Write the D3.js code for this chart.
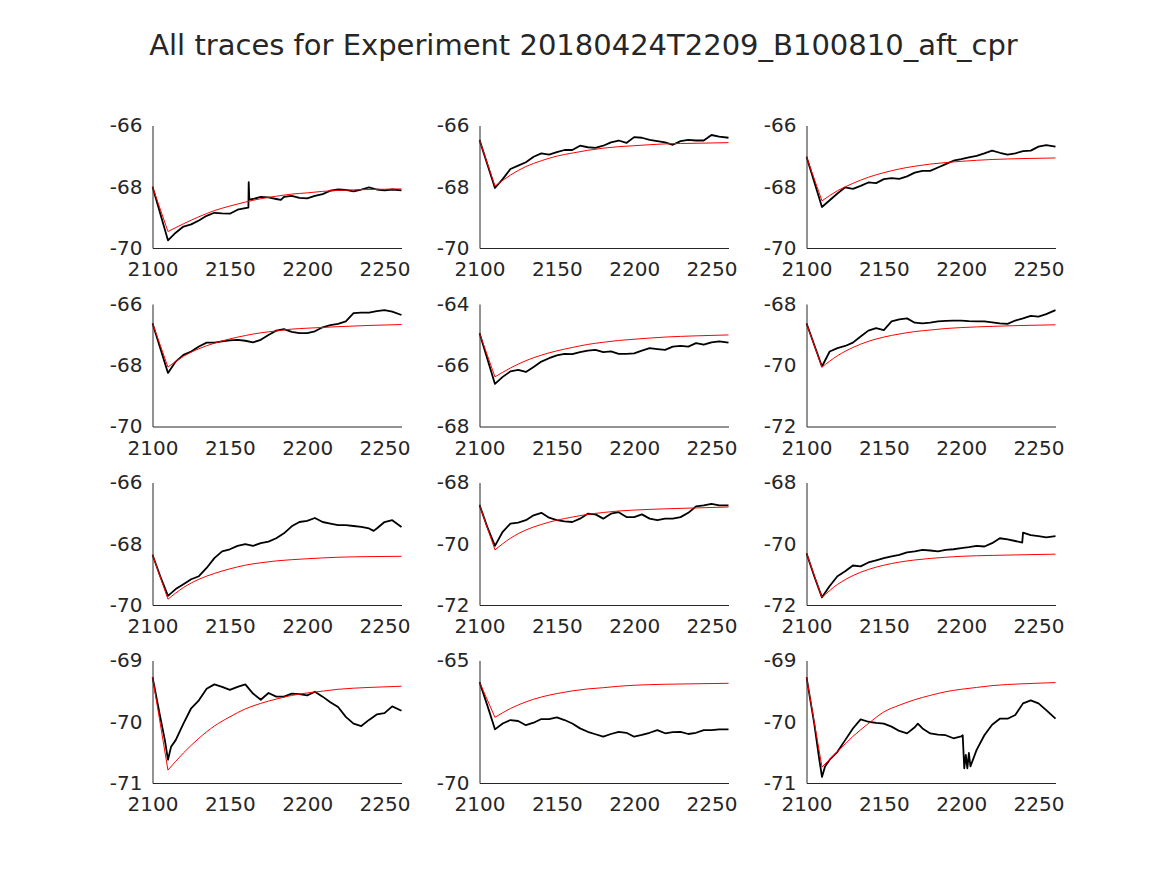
<!DOCTYPE html>
<html>
<head>
<meta charset="utf-8">
<script src="https://cdn.jsdelivr.net/npm/d3@7"></script>
<style>
  body { margin: 0; background: #fff; }
  text { font-family: "DejaVu Sans", sans-serif; fill: #262626; }
</style>
</head>
<body>
<svg id="fig" width="1167" height="875"></svg>
<script>
// x axis shared by all panels
var xDomain = [2100, 2261];
var xTicks = [2100, 2150, 2200, 2250];

var yDomains = [
	[-70, -66], [-70, -66], [-70, -66],
	[-70, -66], [-68, -64], [-72, -68],
	[-70, -66], [-72, -68], [-72, -68],
	[-71, -69], [-70, -65], [-71, -69]
];
var yTicks = [
	[-70, -68, -66], [-70, -68, -66], [-70, -68, -66],
	[-70, -68, -66], [-68, -66, -64], [-72, -70, -68],
	[-70, -68, -66], [-72, -70, -68], [-72, -70, -68],
	[-71, -70, -69], [-70, -65], [-71, -70, -69]
];

// recorded traces (black), [time, value]
var trace1 = [[2100,-68],[2110,-69.75],[2115,-69.5],[2120,-69.3],[2125,-69.23],[2130,-69.1],[2135,-68.95],[2140,-68.85],[2145,-68.87],[2150,-68.88],[2155,-68.75],[2160,-68.7],[2162,-68.68],[2162.2,-67.85],[2162.6,-68.42],[2165,-68.4],[2170,-68.33],[2175,-68.35],[2180,-68.4],[2183,-68.43],[2185,-68.33],[2190,-68.3],[2195,-68.36],[2200,-68.38],[2205,-68.3],[2210,-68.24],[2215,-68.13],[2220,-68.09],[2225,-68.1],[2230,-68.15],[2235,-68.09],[2240,-68.02],[2245,-68.09],[2250,-68.12],[2255,-68.09],[2261,-68.12]];
var trace2 = [[2100,-66.47],[2110,-68.04],[2115,-67.75],[2120,-67.42],[2125,-67.31],[2130,-67.2],[2135,-67.02],[2140,-66.91],[2145,-66.95],[2150,-66.87],[2155,-66.8],[2160,-66.8],[2165,-66.66],[2170,-66.71],[2175,-66.73],[2180,-66.66],[2185,-66.55],[2190,-66.49],[2195,-66.57],[2200,-66.38],[2205,-66.4],[2210,-66.47],[2215,-66.51],[2220,-66.55],[2225,-66.63],[2230,-66.51],[2235,-66.47],[2240,-66.49],[2245,-66.49],[2250,-66.31],[2255,-66.36],[2261,-66.4]];
var trace3 = [[2100,-67.02],[2110,-68.66],[2115,-68.44],[2120,-68.22],[2125,-68.02],[2130,-68.07],[2135,-67.97],[2140,-67.86],[2145,-67.88],[2150,-67.75],[2155,-67.72],[2160,-67.74],[2165,-67.66],[2170,-67.54],[2175,-67.48],[2180,-67.48],[2185,-67.37],[2190,-67.26],[2195,-67.15],[2200,-67.1],[2205,-67.04],[2210,-66.99],[2215,-66.91],[2220,-66.82],[2225,-66.89],[2230,-66.95],[2235,-66.91],[2240,-66.84],[2245,-66.82],[2250,-66.69],[2255,-66.64],[2261,-66.69]];
var trace4 = [[2100,-66.63],[2110,-68.25],[2115,-67.88],[2120,-67.66],[2125,-67.55],[2130,-67.39],[2135,-67.26],[2140,-67.26],[2145,-67.22],[2150,-67.19],[2155,-67.17],[2160,-67.2],[2165,-67.25],[2170,-67.17],[2175,-67.01],[2180,-66.87],[2185,-66.82],[2190,-66.91],[2195,-66.95],[2200,-66.95],[2205,-66.89],[2210,-66.76],[2215,-66.69],[2220,-66.65],[2225,-66.57],[2230,-66.3],[2235,-66.28],[2240,-66.28],[2245,-66.23],[2250,-66.2],[2255,-66.25],[2261,-66.36]];
var trace5 = [[2100,-64.95],[2110,-66.61],[2115,-66.38],[2120,-66.2],[2125,-66.15],[2130,-66.22],[2135,-66.06],[2140,-65.88],[2145,-65.77],[2150,-65.68],[2155,-65.63],[2160,-65.64],[2165,-65.57],[2170,-65.52],[2175,-65.5],[2180,-65.57],[2185,-65.55],[2190,-65.63],[2195,-65.63],[2200,-65.61],[2205,-65.52],[2210,-65.44],[2215,-65.47],[2220,-65.5],[2225,-65.39],[2230,-65.37],[2235,-65.39],[2240,-65.28],[2245,-65.33],[2250,-65.25],[2255,-65.22],[2261,-65.26]];
var trace6 = [[2100,-68.63],[2110,-70.04],[2115,-69.55],[2120,-69.44],[2125,-69.37],[2130,-69.26],[2135,-69.06],[2140,-68.87],[2145,-68.79],[2150,-68.85],[2155,-68.57],[2160,-68.5],[2165,-68.47],[2170,-68.61],[2175,-68.63],[2180,-68.61],[2185,-68.57],[2190,-68.55],[2195,-68.54],[2200,-68.54],[2205,-68.56],[2210,-68.57],[2215,-68.57],[2220,-68.6],[2225,-68.63],[2230,-68.65],[2235,-68.54],[2240,-68.47],[2245,-68.39],[2250,-68.41],[2255,-68.33],[2261,-68.2]];
var trace7 = [[2100,-68.36],[2105,-69.06],[2110,-69.7],[2115,-69.48],[2120,-69.32],[2125,-69.16],[2130,-69.06],[2135,-68.79],[2140,-68.47],[2145,-68.25],[2150,-68.18],[2155,-68.07],[2160,-68.01],[2165,-68.07],[2170,-67.98],[2175,-67.93],[2180,-67.82],[2185,-67.66],[2190,-67.43],[2195,-67.29],[2200,-67.25],[2205,-67.16],[2210,-67.29],[2215,-67.34],[2220,-67.39],[2225,-67.39],[2230,-67.42],[2235,-67.45],[2240,-67.5],[2243,-67.58],[2245,-67.5],[2250,-67.29],[2255,-67.23],[2261,-67.45]];
var trace8 = [[2100,-68.73],[2105,-69.45],[2110,-70.07],[2115,-69.61],[2120,-69.34],[2125,-69.31],[2130,-69.23],[2135,-69.07],[2140,-68.99],[2145,-69.15],[2150,-69.23],[2155,-69.27],[2160,-69.29],[2165,-69.18],[2170,-69.02],[2175,-69.04],[2180,-69.18],[2185,-69.02],[2190,-68.97],[2195,-69.13],[2200,-69.13],[2205,-69.04],[2210,-69.18],[2215,-69.23],[2220,-69.18],[2225,-69.18],[2230,-69.13],[2235,-68.99],[2240,-68.78],[2245,-68.75],[2250,-68.7],[2255,-68.75],[2261,-68.75]];
var trace9 = [[2100,-70.31],[2105,-71.06],[2110,-71.75],[2115,-71.38],[2120,-71.06],[2125,-70.9],[2130,-70.71],[2135,-70.74],[2140,-70.61],[2145,-70.54],[2150,-70.47],[2155,-70.41],[2160,-70.36],[2165,-70.28],[2170,-70.25],[2175,-70.2],[2180,-70.22],[2185,-70.25],[2190,-70.2],[2195,-70.18],[2200,-70.14],[2205,-70.11],[2210,-70.07],[2215,-70.09],[2220,-69.98],[2225,-69.82],[2230,-69.86],[2235,-69.91],[2239.5,-69.96],[2240,-69.64],[2245,-69.72],[2250,-69.75],[2255,-69.79],[2261,-69.75]];
var trace10 = [[2100,-69.27],[2105,-69.92],[2108,-70.3],[2110,-70.62],[2112,-70.41],[2115,-70.3],[2120,-70.03],[2125,-69.78],[2130,-69.65],[2135,-69.46],[2140,-69.39],[2145,-69.43],[2150,-69.48],[2155,-69.43],[2160,-69.39],[2165,-69.54],[2170,-69.64],[2175,-69.53],[2180,-69.59],[2185,-69.59],[2190,-69.54],[2195,-69.55],[2200,-69.57],[2205,-69.51],[2210,-69.59],[2215,-69.68],[2220,-69.76],[2225,-69.92],[2230,-70.03],[2235,-70.07],[2240,-69.97],[2245,-69.88],[2250,-69.86],[2255,-69.75],[2261,-69.82]];
var trace11 = [[2100,-65.88],[2105,-66.82],[2110,-67.81],[2115,-67.57],[2120,-67.43],[2125,-67.47],[2130,-67.64],[2135,-67.54],[2140,-67.39],[2145,-67.39],[2150,-67.32],[2155,-67.43],[2160,-67.57],[2165,-67.77],[2170,-67.91],[2175,-68.01],[2180,-68.11],[2185,-68.0],[2190,-67.91],[2195,-67.95],[2200,-68.11],[2205,-68.04],[2210,-67.95],[2215,-67.84],[2220,-67.97],[2225,-67.92],[2230,-67.91],[2235,-68.0],[2240,-67.95],[2245,-67.84],[2250,-67.84],[2255,-67.81],[2261,-67.81]];
var trace12 = [[2100,-69.27],[2105,-70.03],[2108,-70.57],[2110,-70.9],[2112,-70.73],[2115,-70.62],[2120,-70.49],[2125,-70.3],[2130,-70.11],[2135,-69.96],[2140,-70.0],[2145,-70.02],[2150,-70.03],[2155,-70.08],[2160,-70.15],[2165,-70.19],[2170,-70.09],[2172,-70.03],[2175,-70.11],[2180,-70.19],[2185,-70.21],[2190,-70.22],[2195,-70.27],[2200,-70.24],[2201,-70.22],[2202,-70.76],[2203,-70.54],[2204,-70.76],[2205,-70.51],[2206,-70.73],[2210,-70.46],[2215,-70.22],[2220,-70.05],[2225,-69.95],[2230,-69.95],[2235,-69.89],[2240,-69.7],[2245,-69.65],[2250,-69.7],[2255,-69.81],[2261,-69.95]];

// fitted curves (red), [time, value]
var fit1 = [[2100,-68],[2110,-69.46],[2120,-69.21],[2130,-68.98],[2140,-68.78],[2150,-68.63],[2160,-68.5],[2170,-68.39],[2180,-68.31],[2190,-68.24],[2200,-68.2],[2210,-68.15],[2220,-68.12],[2240,-68.09],[2261,-68.07]];
var fit2 = [[2100,-66.47],[2110,-67.98],[2120,-67.62],[2130,-67.34],[2140,-67.15],[2150,-67.0],[2160,-66.9],[2170,-66.81],[2180,-66.74],[2190,-66.69],[2200,-66.66],[2220,-66.6],[2240,-66.58],[2261,-66.56]];
var fit3 = [[2100,-67.02],[2110,-68.46],[2120,-68.13],[2130,-67.89],[2140,-67.69],[2150,-67.54],[2160,-67.42],[2170,-67.33],[2180,-67.26],[2190,-67.21],[2200,-67.17],[2220,-67.11],[2240,-67.08],[2261,-67.06]];
var fit4 = [[2100,-66.63],[2110,-68.06],[2120,-67.71],[2130,-67.46],[2140,-67.28],[2150,-67.14],[2160,-67.03],[2170,-66.94],[2180,-66.88],[2190,-66.82],[2200,-66.79],[2220,-66.74],[2240,-66.7],[2261,-66.67]];
var fit5 = [[2100,-64.95],[2110,-66.38],[2120,-66.09],[2130,-65.85],[2140,-65.67],[2150,-65.53],[2160,-65.42],[2170,-65.32],[2180,-65.25],[2190,-65.19],[2200,-65.15],[2220,-65.08],[2240,-65.04],[2261,-65.01]];
var fit6 = [[2100,-68.63],[2110,-70.06],[2120,-69.69],[2130,-69.42],[2140,-69.22],[2150,-69.08],[2160,-68.98],[2170,-68.9],[2180,-68.85],[2190,-68.8],[2200,-68.77],[2220,-68.73],[2240,-68.7],[2261,-68.68]];
var fit7 = [[2100,-68.36],[2110,-69.81],[2120,-69.43],[2130,-69.16],[2140,-68.97],[2150,-68.82],[2160,-68.7],[2170,-68.62],[2180,-68.56],[2190,-68.52],[2200,-68.49],[2220,-68.44],[2240,-68.42],[2261,-68.41]];
var fit8 = [[2100,-68.73],[2110,-70.2],[2120,-69.82],[2130,-69.55],[2140,-69.37],[2150,-69.23],[2160,-69.13],[2170,-69.04],[2180,-68.98],[2190,-68.93],[2200,-68.9],[2220,-68.86],[2240,-68.83],[2261,-68.8]];
var fit9 = [[2100,-70.31],[2110,-71.75],[2120,-71.33],[2130,-71.04],[2140,-70.84],[2150,-70.7],[2160,-70.6],[2170,-70.53],[2180,-70.48],[2190,-70.44],[2200,-70.41],[2220,-70.38],[2240,-70.36],[2261,-70.34]];
var fit10 = [[2100,-69.27],[2110,-70.79],[2120,-70.51],[2130,-70.27],[2140,-70.07],[2150,-69.92],[2160,-69.79],[2170,-69.7],[2180,-69.63],[2190,-69.57],[2200,-69.53],[2210,-69.5],[2220,-69.47],[2240,-69.44],[2261,-69.42]];
var fit11 = [[2100,-65.88],[2110,-67.32],[2120,-66.96],[2130,-66.69],[2140,-66.49],[2150,-66.35],[2160,-66.24],[2170,-66.16],[2180,-66.11],[2190,-66.05],[2200,-66.01],[2220,-65.97],[2240,-65.95],[2261,-65.93]];
var fit12 = [[2100,-69.27],[2110,-70.74],[2120,-70.49],[2130,-70.24],[2140,-70.03],[2150,-69.84],[2160,-69.73],[2170,-69.64],[2180,-69.57],[2190,-69.51],[2200,-69.47],[2210,-69.44],[2220,-69.41],[2240,-69.38],[2261,-69.36]];

var traces = [trace1, trace2, trace3, trace4, trace5, trace6, trace7, trace8, trace9, trace10, trace11, trace12];
var fits = [fit1, fit2, fit3, fit4, fit5, fit6, fit7, fit8, fit9, fit10, fit11, fit12];

(function () {
	var svg = d3.select('#fig');
	var colLeft = [152.5, 479.5, 806.5];
	var rowTop = [125.5, 304, 482.5, 660.5];
	var w = 249, h = 122.5;

	svg.append('text')
		.attr('x', 583.5)
		.attr('y', 55)
		.attr('text-anchor', 'middle')
		.style('font-size', '29px')
		.text('All traces for Experiment 20180424T2209_B100810_aft_cpr');

	svg.append('defs').selectAll('clipPath')
		.data(d3.range(12))
		.enter().append('clipPath')
		.attr('id', function (d) { return 'clip' + d; })
		.append('rect')
		.attr('x', -1).attr('y', -2)
		.attr('width', w + 2).attr('height', h + 4);

	for (var i = 0; i < 12; i++) {
		var g = svg.append('g')
			.attr('transform', 'translate(' + colLeft[i % 3] + ',' + rowTop[Math.floor(i / 3)] + ')');

		var x = d3.scaleLinear().domain(xDomain).range([0, w]);
		var y = d3.scaleLinear().domain(yDomains[i]).range([h, 0]);

		var line = d3.line()
			.x(function (d) { return x(d[0]); })
			.y(function (d) { return y(d[1]); });
		var smooth = d3.line()
			.curve(d3.curveMonotoneX)
			.x(function (d) { return x(d[0]); })
			.y(function (d) { return y(d[1]); });

		var plot = g.append('g').attr('clip-path', 'url(#clip' + i + ')');

		plot.append('path')
			.datum(traces[i])
			.attr('d', line)
			.attr('fill', 'none')
			.attr('stroke', '#000')
			.attr('stroke-width', 1.8)
			.attr('stroke-linejoin', 'round');

		// fit: straight drop to the minimum, then smooth recovery
		var f = fits[i];
		plot.append('path')
			.datum(f.slice(0, 2))
			.attr('d', line)
			.attr('fill', 'none')
			.attr('stroke', '#ff0000')
			.attr('stroke-width', 1);
		plot.append('path')
			.datum(f.slice(1))
			.attr('d', smooth)
			.attr('fill', 'none')
			.attr('stroke', '#ff0000')
			.attr('stroke-width', 1);

		var xAxis = g.append('g')
			.attr('transform', 'translate(0,' + h + ')')
			.call(d3.axisBottom(x).tickValues(xTicks).tickFormat(d3.format('d'))
				.tickSizeInner(0).tickSizeOuter(0).tickPadding(14));
		var yAxis = g.append('g')
			.call(d3.axisLeft(y).tickValues(yTicks[i]).tickFormat(d3.format('d'))
				.tickSizeInner(0).tickSizeOuter(0).tickPadding(10));

		[xAxis, yAxis].forEach(function (a) {
			a.select('.domain').attr('stroke', '#262626').attr('stroke-width', 1);
			a.selectAll('text')
				.style('font-size', '20px')
				.style('font-family', '"DejaVu Sans", sans-serif')
				.attr('fill', '#262626');
		});
		// d3 uses a unicode minus; keep a hyphen-like look
		yAxis.selectAll('text').text(function (d) { return String(d); });
	}
}());
</script>
</body>
</html>
